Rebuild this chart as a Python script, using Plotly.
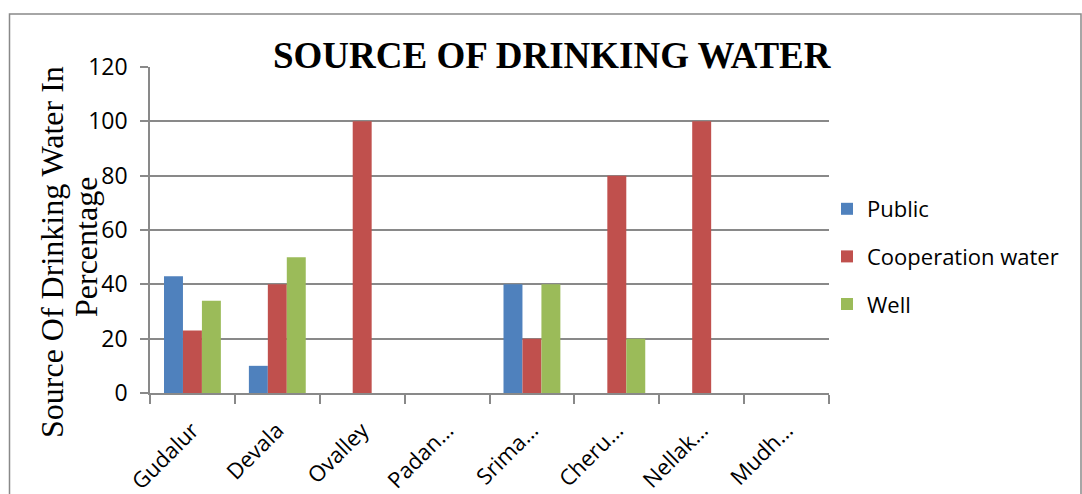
import plotly.graph_objects as go

categories = ["Gudalur", "Devala", "Ovalley", "Padan…", "Srima…", "Cheru…", "Nellak…", "Mudh…"]
public = [43, 10, None, None, 40, None, None, None]
cooperation = [23, 40, 100, None, 20, 80, 100, None]
well = [34, 50, None, None, 40, 20, None, None]
y_ticks = [0, 20, 40, 60, 80, 100, 120]

W, H = 1082, 494
L, R, T, B = 150, 829, 67, 393

def px(x):
    return (x - L) / (R - L)

def py(y):
    return (B - y) / (B - T)

fig = go.Figure()
series = [("Public", public, "#4F81BD"),
          ("Cooperation water", cooperation, "#C0504D"),
          ("Well", well, "#9BBB59")]
for i, (name, vals, col) in enumerate(series):
    fig.add_trace(go.Bar(x=categories, y=vals, name=name, marker_color=col,
                         marker_line_width=0, legendgroup=f"g{i}"))

grid = "#898989"
fig.update_layout(
    width=W, height=H,
    margin=dict(l=L, r=W - R, t=T, b=H - B, autoexpand=False),
    plot_bgcolor="white", paper_bgcolor="white",
    barmode="group", bargap=0.33, bargroupgap=0,
    font=dict(family="Open Sans, Liberation Sans, sans-serif", size=21, color="black"),
    legend=dict(x=px(827), y=py(188), xanchor="left", yanchor="top",
                font=dict(size=22), tracegroupgap=16, bgcolor="rgba(0,0,0,0)"),
    showlegend=True,
)
fig.update_xaxes(showgrid=False, showline=True, linecolor=grid, linewidth=1.5,
                 ticks="outside", ticklen=9, tickcolor=grid, tickwidth=1.5,
                 tickangle=-45, tickson="boundaries", ticklabelstandoff=14,
                 tickfont=dict(size=22), automargin=False)
fig.update_yaxes(range=[0, 120], tickvals=y_ticks, showgrid=True, gridcolor=grid,
                 gridwidth=1.5, showline=True, linecolor=grid, linewidth=1.5,
                 ticks="outside", ticklen=8, tickcolor=grid, tickwidth=1.5,
                 ticklabelstandoff=8, tickfont=dict(size=23), zeroline=False,
                 automargin=False)

serif = "Liberation Serif, Times New Roman, serif"
fig.add_annotation(text="<b>SOURCE OF DRINKING WATER</b>", xref="paper", yref="paper",
                   x=px(552), y=py(56), xanchor="center", yanchor="middle",
                   showarrow=False, font=dict(family=serif, size=37, color="black"))
fig.add_annotation(text="Source Of Drinking Water In", xref="paper", yref="paper",
                   x=px(52), y=py(252), xanchor="center", yanchor="middle",
                   textangle=-90, showarrow=False,
                   font=dict(family=serif, size=32, color="black"))
fig.add_annotation(text="Percentage", xref="paper", yref="paper",
                   x=px(86), y=py(247), xanchor="center", yanchor="middle",
                   textangle=-90, showarrow=False,
                   font=dict(family=serif, size=32, color="black"))
fig.add_shape(type="rect", xref="paper", yref="paper",
              x0=px(9.5), x1=px(1081), y0=py(520), y1=py(14),
              line=dict(color="#898989", width=1.5), layer="below")

fig.write_html("out.html", config={"displayModeBar": False},
               post_script="document.body.style.margin='0';")
